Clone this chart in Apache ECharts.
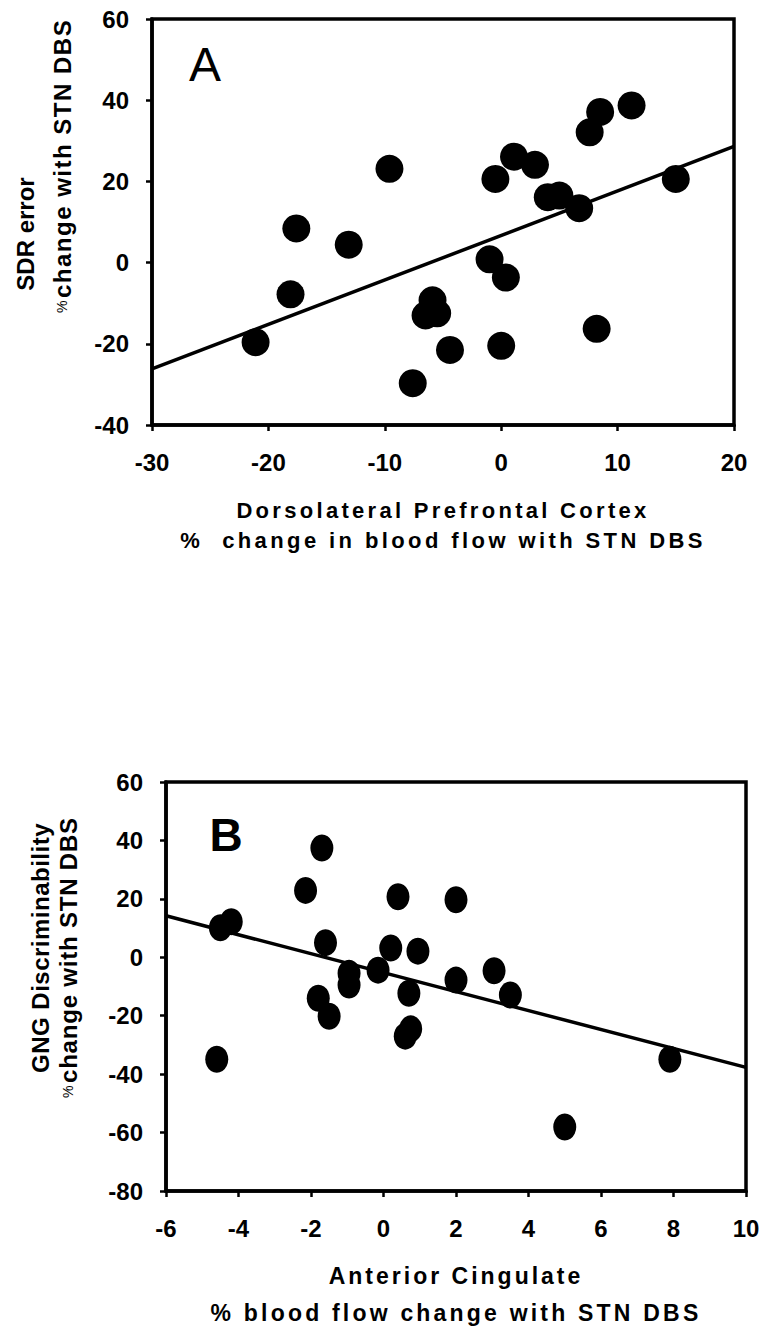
<!DOCTYPE html>
<html><head><meta charset="utf-8">
<script src="https://cdn.jsdelivr.net/npm/echarts@6/dist/echarts.min.js"></script>
<style>html,body{margin:0;padding:0;background:#fff}#c{width:773px;height:1332px}</style>
</head><body><div id="c"></div>
<script>
// Panel A: Dorsolateral prefrontal cortex vs SDR error
const dlpfcX = [11.2, 8.5, 7.6, -9.6, -0.5, 1.1, 2.9, 4.0, 5.0, 6.7, 15.0, -17.6, -13.1, -1.0, 0.4, -18.1, -5.9, -6.5, -5.5, -21.1, 8.2, -4.4, 0.0, -7.6];
const sdrY   = [38.7, 37.1, 32.1, 23.1, 20.6, 26.1, 24.1, 16.1, 16.5, 13.4, 20.6, 8.4, 4.4, 0.8, -3.7, -7.8, -9.3, -13.0, -12.5, -19.6, -16.3, -21.5, -20.5, -29.7];
const fitAX = [-30, 20];
const fitAY = [-26.2, 28.6];
// Panel B: Anterior cingulate vs GNG discriminability
const acX  = [-1.7, -2.15, 0.4, 2.0, -4.2, -4.5, -1.6, 0.2, 0.95, -0.15, -0.95, -0.95, 3.05, 2.0, 3.5, 0.7, -1.8, -1.5, 0.6, 0.75, -4.6, 7.9, 5.0];
const gngY = [37.4, 22.9, 20.7, 19.7, 12.2, 10.1, 5.0, 3.2, 2.1, -4.4, -5.5, -9.5, -4.6, -7.8, -12.9, -12.3, -14.0, -20.2, -27.0, -24.5, -34.9, -34.9, -58.1];
const fitBX = [-6, 10];
const fitBY = [14.2, -37.7];
// Axis ranges / ticks
const axisA = {xMin: -30, xMax: 20, xStep: 10, yMin: -40, yMax: 60, yStep: 20};
const axisB = {xMin: -6, xMax: 10, xStep: 2, yMin: -80, yMax: 60, yStep: 20};

const FONT = "'Liberation Sans', Arial, Helvetica, sans-serif";
const pairs = (xs, ys) => xs.map((x, i) => [x, ys[i]]);

const chart = echarts.init(document.getElementById('c'), null, {renderer: 'svg'});

function xAxisCfg(g, ax, name, gap, fs, lh) {
  return {
    gridIndex: g, type: 'value', min: ax.xMin, max: ax.xMax, interval: ax.xStep,
    axisLine: {onZero: false, lineStyle: {color: '#000', width: 3.5}},
    axisTick: {length: 6, lineStyle: {color: '#000', width: 2.5}},
    axisLabel: {margin: 25, color: '#000', fontSize: 24, fontWeight: 'bold', fontFamily: FONT},
    splitLine: {show: false},
    name: name, nameLocation: 'middle', nameGap: gap,
    nameTextStyle: {color: '#000', fontSize: fs, fontWeight: 'bold', fontFamily: FONT, lineHeight: lh}
  };
}
function yAxisCfg(g, ax) {
  return {
    gridIndex: g, type: 'value', min: ax.yMin, max: ax.yMax, interval: ax.yStep,
    axisLine: {onZero: false, lineStyle: {color: '#000', width: 3.5}},
    axisTick: {length: 6, lineStyle: {color: '#000', width: 2.5}},
    axisLabel: {margin: 23, color: '#000', fontSize: 24, fontWeight: 'bold', fontFamily: FONT},
    splitLine: {show: false}
  };
}
function rtext(x, y, text, fs, align, weight) {
  return {type: 'text', x: x, y: y, rotation: Math.PI / 2,
    style: {text: text, fill: '#000', fontSize: fs, fontWeight: weight || 'bold', fontFamily: FONT,
      align: align, textAlign: align, verticalAlign: 'middle', textVerticalAlign: 'middle'}};
}
function ptext(x, y, text, fs, weight) {
  return {type: 'text', x: x, y: y,
    style: {text: text, fill: '#000', fontSize: fs, fontWeight: weight, fontFamily: FONT,
      align: 'center', textAlign: 'center', verticalAlign: 'middle', textVerticalAlign: 'middle'}};
}

const option = {
  animation: false,
  backgroundColor: '#fff',
  grid: [
    {left: 152, top: 19, width: 582, height: 406, show: true, borderColor: '#000', borderWidth: 3.5},
    {left: 166, top: 782, width: 580, height: 413, show: true, borderColor: '#000', borderWidth: 3.5}
  ],
  xAxis: [
    xAxisCfg(0, axisA, 'Dorsolateral Prefrontal Cortex\n%  change in blood flow with STN DBS', 70, 22, 30),
    xAxisCfg(1, axisB, 'Anterior Cingulate\n% blood flow change with STN DBS', 66, 23, 37)
  ],
  yAxis: [yAxisCfg(0, axisA), yAxisCfg(1, axisB)],
  series: [
    {type: 'scatter', xAxisIndex: 0, yAxisIndex: 0, data: pairs(dlpfcX, sdrY), symbolSize: 28, itemStyle: {color: '#000', opacity: 1}},
    {type: 'line', xAxisIndex: 0, yAxisIndex: 0, data: pairs(fitAX, fitAY), symbol: 'none', lineStyle: {color: '#000', width: 3.5}},
    {type: 'scatter', xAxisIndex: 1, yAxisIndex: 1, data: pairs(acX, gngY), symbolSize: [23, 27], itemStyle: {color: '#000', opacity: 1}},
    {type: 'line', xAxisIndex: 1, yAxisIndex: 1, data: pairs(fitBX, fitBY), symbol: 'none', lineStyle: {color: '#000', width: 3.5}}
  ],
  graphic: [
    ptext(205, 64, 'A', 48, 'normal'),
    ptext(226, 835, 'B', 46, 'bold'),
    rtext(25, 234, 'SDR error', 24, 'center'),
    rtext(62, 313, '%', 14, 'left', 'normal'),
    rtext(62, 298, 'change with STN DBS', 24, 'left'),
    rtext(40, 948, 'GNG Discriminability', 24, 'center'),
    rtext(68, 1098, '%', 14, 'left', 'normal'),
    rtext(68, 1083, 'change with STN DBS', 24, 'left')
  ]
};

const spacingMap = {
  'Dorsolateral Prefrontal Cortex': 3.3,
  '%  change in blood flow with STN DBS': 3.4,
  'Anterior Cingulate': 3.0,
  '% blood flow change with STN DBS': 3.2,
  'SDR error': 0,
  'GNG Discriminability': 0.5
};
function applySpacing() {
  let lineCount = 0;
  document.querySelectorAll('#c text').forEach(t => {
    const key = t.textContent.replace(/\u00a0/g, ' ').trim();
    if (key === 'change with STN DBS') {
      t.setAttribute('letter-spacing', lineCount === 0 ? 1.5 : 0.8);
      lineCount++;
    } else if (spacingMap[key] != null) {
      t.setAttribute('letter-spacing', spacingMap[key]);
    }
  });
}
chart.on('finished', applySpacing);
chart.setOption(option);
applySpacing();
setTimeout(applySpacing, 50);
</script></body></html>
